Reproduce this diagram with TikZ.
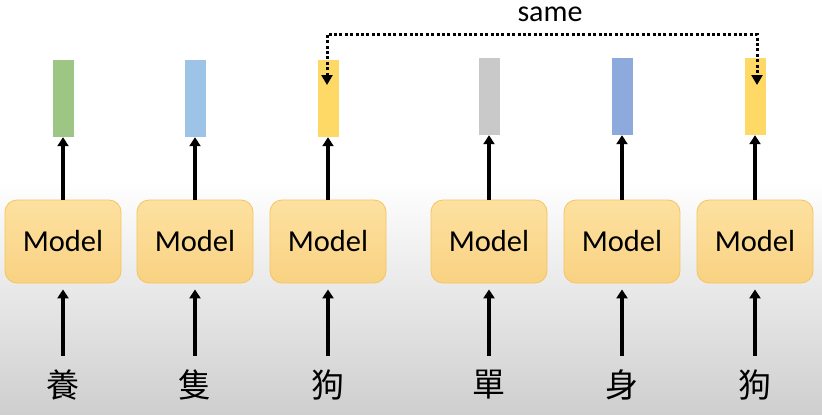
\documentclass[tikz,border=0pt]{standalone}
\usepackage{fontspec}
\setmainfont{Carlito}
\newfontfamily\cjkfont{Noto Sans CJK TC}
\usepackage{tikz}
\usetikzlibrary{arrows.meta}

\definecolor{boxtop}{RGB}{253,225,160}
\definecolor{boxbot}{RGB}{249,210,130}
\definecolor{boxline}{RGB}{244,196,98}
\definecolor{vgreen}{RGB}{157,197,131}
\definecolor{vblue}{RGB}{157,195,230}
\definecolor{vyellow}{RGB}{255,217,102}
\definecolor{vgray}{RGB}{201,201,201}
\definecolor{vdblue}{RGB}{142,169,219}

\tikzset{
  modelbox/.style={draw=boxline,line width=0.8pt,rounded corners=12pt,
    top color=boxtop,bottom color=boxbot,minimum width=116pt,
    minimum height=83pt,inner sep=0pt,font=\fontsize{30.5}{36}\selectfont},
  vecbox/.style={minimum width=21pt,minimum height=77pt,inner sep=0pt},
  charnode/.style={inner sep=0pt,font=\cjkfont\fontsize{33}{40}\selectfont},
  arr/.style={line width=3.2pt,-{Triangle[width=11pt,length=9pt]}},
  samearr/.style={line width=3pt,dash pattern=on 3pt off 2.4pt,
    {Triangle[width=11pt,length=10pt]}-{Triangle[width=11pt,length=10pt]}}
}

\begin{document}
\begin{tikzpicture}[x=1pt,y=-1pt]
  \useasboundingbox (0,0) rectangle (822,415);
  \fill[white] (0,0) rectangle (822,415);
  \shade[top color=white,bottom color=gray!38] (0,180) rectangle (822,415);

  % models
  \node[modelbox] (m1) at ( 63,241.5) {Model};
  \node[modelbox] (m2) at (195,241.5) {Model};
  \node[modelbox] (m3) at (328,241.5) {Model};
  \node[modelbox] (m4) at (489,241.5) {Model};
  \node[modelbox] (m5) at (622,241.5) {Model};
  \node[modelbox] (m6) at (755,241.5) {Model};

  % output vectors
  \node[vecbox,fill=vgreen]  (v1) at ( 63,98.5) {};
  \node[vecbox,fill=vblue]   (v2) at (195,98.5) {};
  \node[vecbox,fill=vyellow] (v3) at (328,98.5) {};
  \node[vecbox,fill=vgray]   (v4) at (489,96.5) {};
  \node[vecbox,fill=vdblue]  (v5) at (622,96.5) {};
  \node[vecbox,fill=vyellow] (v6) at (755,96.5) {};

  % input characters
  \node[charnode] (c1) at ( 63,385) {養};
  \node[charnode] (c2) at (195,385) {隻};
  \node[charnode] (c3) at (328,385) {狗};
  \node[charnode] (c4) at (489,385) {單};
  \node[charnode] (c5) at (622,385) {身};
  \node[charnode] (c6) at (755,385) {狗};

  \draw[arr] (m1.north) -- (v1.south);
  \draw[arr] (m2.north) -- (v2.south);
  \draw[arr] (m3.north) -- (v3.south);
  \draw[arr] (m4.north) -- (v4.south);
  \draw[arr] (m5.north) -- (v5.south);
  \draw[arr] (m6.north) -- (v6.south);

  \draw[arr,shorten <=14pt,shorten >=6pt] (c1.north) -- (m1.south);
  \draw[arr,shorten <=14pt,shorten >=6pt] (c2.north) -- (m2.south);
  \draw[arr,shorten <=14pt,shorten >=6pt] (c3.north) -- (m3.south);
  \draw[arr,shorten <=14pt,shorten >=6pt] (c4.north) -- (m4.south);
  \draw[arr,shorten <=14pt,shorten >=6pt] (c5.north) -- (m5.south);
  \draw[arr,shorten <=14pt,shorten >=6pt] (c6.north) -- (m6.south);

  % same
  \coordinate (s3) at (327,85);
  \coordinate (s6) at (757,85);
  \draw[samearr] (s3) -- ++(0,-51) -| (s6);
  \node[font=\fontsize{30}{36}\selectfont] (same) at (550,14) {same};
\end{tikzpicture}
\end{document}
